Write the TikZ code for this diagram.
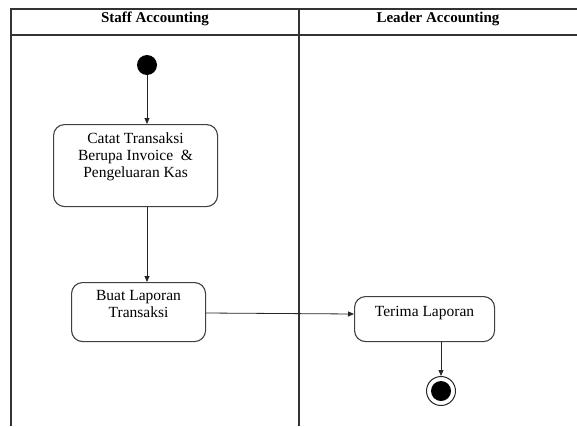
\documentclass[tikz,border=0pt]{standalone}
\usepackage{fontspec}
\setmainfont{Liberation Serif}
\usetikzlibrary{arrows.meta}
\begin{document}
\begin{tikzpicture}[x=1pt,y=-1pt,
  frame/.style={draw=black!80, line width=1.4pt},
  actbox/.style={draw=black!75, line width=1.1pt, rounded corners=11pt, anchor=north west, inner sep=0pt},
  lbl/.style={font=\fontsize{15.5}{17}\selectfont, align=center, anchor=north, inner sep=0pt},
  hdr/.style={font=\fontsize{15}{16}\selectfont\bfseries, inner sep=0pt},
  flow/.style={draw=black!85, line width=0.8pt, -{Triangle[length=6pt,width=5pt]}}]
\useasboundingbox (0,0) rectangle (577,426);
% swimlane frame
\coordinate (tl) at (11,9);
\coordinate (tr) at (577,9);
\coordinate (hl) at (11,35);
\coordinate (hr) at (577,35);
\coordinate (bl) at (11,426);
\coordinate (dt) at (299,9);
\coordinate (db) at (299,426);
\draw[frame] (tr) -- (tl) -- (bl);
\draw[frame] (hl) -- (hr);
\draw[frame] (dt) -- (db);
\node[hdr] (h1) at (155,18.5) {Staff Accounting};
\node[hdr] (h2) at (438,18.5) {Leader Accounting};
% start
\node[circle, fill=black, minimum size=20pt, inner sep=0pt] (start) at (147,65) {};
% boxes
\node[actbox, minimum width=164pt, minimum height=82pt] (b1) at (53,124) {};
\node[lbl] (t1) at ([yshift=-9pt]b1.north) {Catat Transaksi\\Berupa Invoice\ \ \&\\Pengeluaran Kas};
\node[actbox, minimum width=134pt, minimum height=59pt] (b2) at (71,282) {};
\node[lbl] (t2) at ([yshift=-8pt]b2.north) {Buat Laporan\\Transaksi};
\node[actbox, minimum width=140pt, minimum height=45pt] (b3) at (354,296) {};
\node[lbl] (t3) at ([yshift=-10pt]b3.north) {Terima Laporan};
% end
\node[circle, draw=black!85, line width=1pt, minimum size=29pt, inner sep=0pt] (end) at (441,391) {};
\node[circle, fill=black, minimum size=20pt, inner sep=0pt] (endin) at (end.center) {};
% flows
\draw[flow] (start) -- (start |- b1.north);
\draw[flow] (b1.south -| start) -- (b2.north -| start);
\draw[flow] (b2.east |- 0,313) -- (b3.west |- 0,314);
\draw[flow] (b3.south -| end) -- (end);
\end{tikzpicture}
\end{document}
